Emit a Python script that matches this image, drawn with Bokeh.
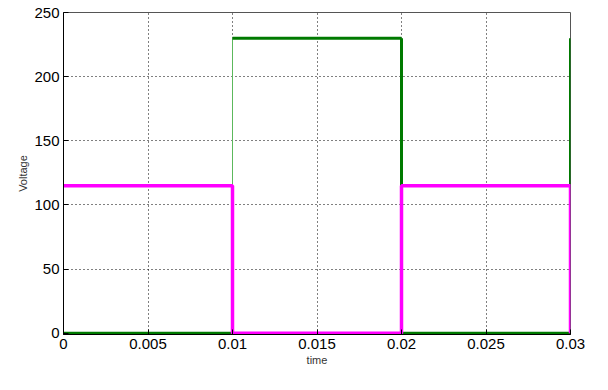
from bokeh.plotting import figure
from bokeh.embed import file_html
from bokeh.resources import INLINE
from bokeh.models import FixedTicker, Range1d

# data
t_green = [0.0, 0.01, 0.01, 0.02, 0.02, 0.03, 0.03]
v_green = [0.0, 0.0, 230.0, 230.0, 0.0, 0.0, 230.0]
t_mag = [0.0, 0.01, 0.01, 0.02, 0.02, 0.03, 0.03]
v_mag = [115.0, 115.0, 0.0, 0.0, 115.0, 115.0, 0.0]
x_ticks = [0, 0.005, 0.01, 0.015, 0.02, 0.025, 0.03]
x_labels = ["0", "0.005", "0.01", "0.015", "0.02", "0.025", "0.03"]
y_ticks = [0, 50, 100, 150, 200, 250]

p = figure(width=592, height=374, output_backend="svg", toolbar_location=None,
           x_range=Range1d(0, 0.03), y_range=Range1d(-1, 250))
p.min_border_left = 63
p.min_border_right = 22
p.min_border_top = 12
p.min_border_bottom = 40

# green series: thin riser at the first transition, thick elsewhere
g_width = [3, 1, 3, 3, 3, 3]
for i in range(len(t_green) - 1):
    p.line([t_green[i], t_green[i + 1]], [v_green[i], v_green[i + 1]],
           line_color="#007a00" if g_width[i] > 1 else "#5cb85c",
           line_width=g_width[i])
p.line(t_mag, v_mag, line_color="#ff00ff", line_width=3.5)

p.xaxis.ticker = FixedTicker(ticks=x_ticks)
p.xaxis.major_label_overrides = {t: l for t, l in zip(x_ticks, x_labels)}
p.yaxis.ticker = FixedTicker(ticks=y_ticks)

for ax in (p.xaxis, p.yaxis):
    ax.major_tick_in = 5
    ax.major_tick_out = 0
    ax.minor_tick_line_color = None
    ax.major_label_text_font = "Liberation Sans"
    ax.major_label_text_font_size = "15px"
    ax.major_label_text_color = "black"
    ax.axis_label_text_font = "Liberation Sans"
    ax.axis_label_text_font_size = "11px"
    ax.axis_label_text_font_style = "normal"
    ax.axis_label_text_color = "#333333"
    ax.axis_line_color = "black"
    ax.major_tick_line_color = "black"
    ax.axis_label_standoff = 2

p.xaxis.axis_label = "time"
p.yaxis.axis_label = "Voltage"
p.xaxis.major_label_standoff = 4
p.yaxis.major_label_standoff = 4

p.grid.grid_line_color = "black"
p.grid.grid_line_dash = "1 3"
p.grid.grid_line_width = 1
p.outline_line_color = "#555555"
p.outline_line_width = 1
p.background_fill_color = "white"
p.border_fill_color = "white"

open("out.html", "w").write(file_html(p, INLINE))
